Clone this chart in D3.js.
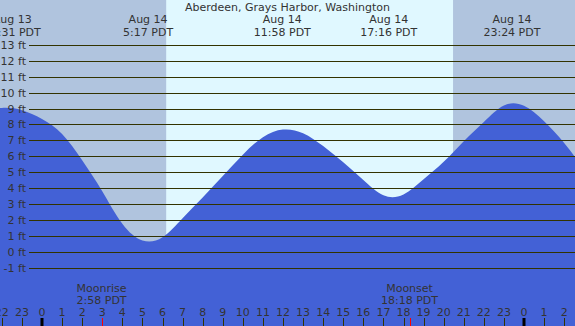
<!DOCTYPE html>
<html>
<head>
<meta charset="utf-8">
<script src="https://cdn.jsdelivr.net/npm/d3@7"></script>
<style>
  body { margin: 0; }
  svg { display: block; font-family: "DejaVu Sans", sans-serif; font-size: 11px; }
</style>
</head>
<body>
<div id="chart"></div>
<script>
const title = "Aberdeen, Grays Harbor, Washington";

// highs and lows (hour offset is relative to Aug 14 00:00)
const extremeDays = ["Aug 13", "Aug 14", "Aug 14", "Aug 14", "Aug 14"];
const extremeTimes = ["22:31", "5:17", "11:58", "17:16", "23:24"];
const extremeDayOffsets = [-24, 0, 0, 0, 0];

// tide height, by hour
const sampleHours = [-3, -2, -1, 0, 1, 2, 3, 4, 5, 6, 7, 8, 9, 10, 11, 12, 13, 14, 15, 16, 17, 18, 19, 20, 21, 22, 23, 24, 25, 26, 27];
const sampleFeet = [8.8, 9.04, 8.9, 8.35, 7.4, 5.75, 3.8, 1.75, 0.7, 0.9, 2.1, 3.4, 4.75, 6.1, 7.2, 7.68, 7.45, 6.64, 5.62, 4.51, 3.55, 3.6, 4.55, 5.65, 6.95, 8.15, 9.19, 9.17, 8.2, 6.83, 5.15];

const feetTicks = [-1, 0, 1, 2, 3, 4, 5, 6, 7, 8, 9, 10, 11, 12, 13];
const hourTicks = [-2, -1, 0, 1, 2, 3, 4, 5, 6, 7, 8, 9, 10, 11, 12, 13, 14, 15, 16, 17, 18, 19, 20, 21, 22, 23, 24, 25, 26];

const moonNames = ["Moonrise", "Moonset"];
const moonTimes = ["2:58", "18:18"];

const sunrise = "6:11";
const sunset = "20:28";

const width = 575;
const height = 326;

const toHours = t => { const p = t.split(":"); return +p[0] + p[1] / 60; };

const x = d3.scaleLinear().domain([0, 24]).range([42, 524]);
const y = d3.scaleLinear().domain([-1, 13]).range([267.5, 45]);

const extremes = extremeTimes.map((t, i) => ({
    day: extremeDays[i], time: t, h: toHours(t) + extremeDayOffsets[i]
}));
const points = sampleHours.map((h, i) => ({ h: h, ft: sampleFeet[i] }));

const svg = d3.select("#chart").append("svg")
    .attr("width", width)
    .attr("height", height);

// night / day background
const rise = x(toHours(sunrise));
const set = x(toHours(sunset));
svg.append("rect").attr("x", 0).attr("y", 0).attr("width", width).attr("height", height).attr("fill", "#b0c4de");
svg.append("rect").attr("x", rise).attr("y", 0).attr("width", set - rise).attr("height", height).attr("fill", "#e0f8ff");

// tide
const area = d3.area()
    .x(d => x(d.h))
    .y0(height)
    .y1(d => y(d.ft))
    .curve(d3.curveNatural);

svg.append("path")
    .datum(points)
    .attr("d", area)
    .attr("fill", "#4361d6");

// feet grid
svg.selectAll("line.grid")
    .data(feetTicks)
    .enter()
    .append("line")
    .attr("class", "grid")
    .attr("x1", 29)
    .attr("x2", width)
    .attr("y1", d => Math.round(y(d)) + 0.5)
    .attr("y2", d => Math.round(y(d)) + 0.5)
    .attr("stroke", "#333300")
    .attr("stroke-width", 1);

svg.selectAll("text.ft")
    .data(feetTicks)
    .enter()
    .append("text")
    .attr("class", "ft")
    .attr("x", 26)
    .attr("y", d => Math.round(y(d)) + 4)
    .attr("text-anchor", "end")
    .attr("fill", "#333333")
    .text(d => d + " ft");

// title and high/low labels
svg.append("text")
    .attr("x", width / 2)
    .attr("y", 11)
    .attr("text-anchor", "middle")
    .attr("fill", "#333333")
    .text(title);

const ext = svg.selectAll("g.ext")
    .data(extremes)
    .enter()
    .append("g")
    .attr("class", "ext")
    .attr("fill", "#333333")
    .attr("text-anchor", "middle");
ext.append("text").attr("x", d => x(d.h)).attr("y", 23).text(d => d.day);
ext.append("text").attr("x", d => x(d.h)).attr("y", 36).text(d => d.time + " PDT");

// moon
const moon = svg.selectAll("g.moon")
    .data(moonNames)
    .enter()
    .append("g")
    .attr("class", "moon")
    .attr("fill", "#333333")
    .attr("text-anchor", "middle");
moon.append("text").attr("x", (d, i) => x(toHours(moonTimes[i]))).attr("y", 292).text(d => d);
moon.append("text").attr("x", (d, i) => x(toHours(moonTimes[i]))).attr("y", 304).text((d, i) => moonTimes[i] + " PDT");

// hour axis
svg.selectAll("text.hour")
    .data(hourTicks)
    .enter()
    .append("text")
    .attr("class", "hour")
    .attr("x", d => x(d))
    .attr("y", 316)
    .attr("text-anchor", "middle")
    .attr("fill", "#333333")
    .text(d => ((d % 24) + 24) % 24);

svg.selectAll("rect.tick")
    .data(hourTicks)
    .enter()
    .append("rect")
    .attr("class", "tick")
    .attr("x", d => d % 24 === 0 ? Math.round(x(d)) - 1.5 : Math.round(x(d)))
    .attr("y", 318)
    .attr("width", d => d % 24 === 0 ? 3 : 1)
    .attr("height", 8)
    .attr("fill", d => d % 24 === 0 ? "#000000" : "#333300");

svg.selectAll("rect.moontick")
    .data(moonTimes)
    .enter()
    .append("rect")
    .attr("class", "moontick")
    .attr("x", d => Math.round(x(toHours(d))))
    .attr("y", 318)
    .attr("width", 1)
    .attr("height", 8)
    .attr("fill", "#ff0000");
</script>
</body>
</html>
